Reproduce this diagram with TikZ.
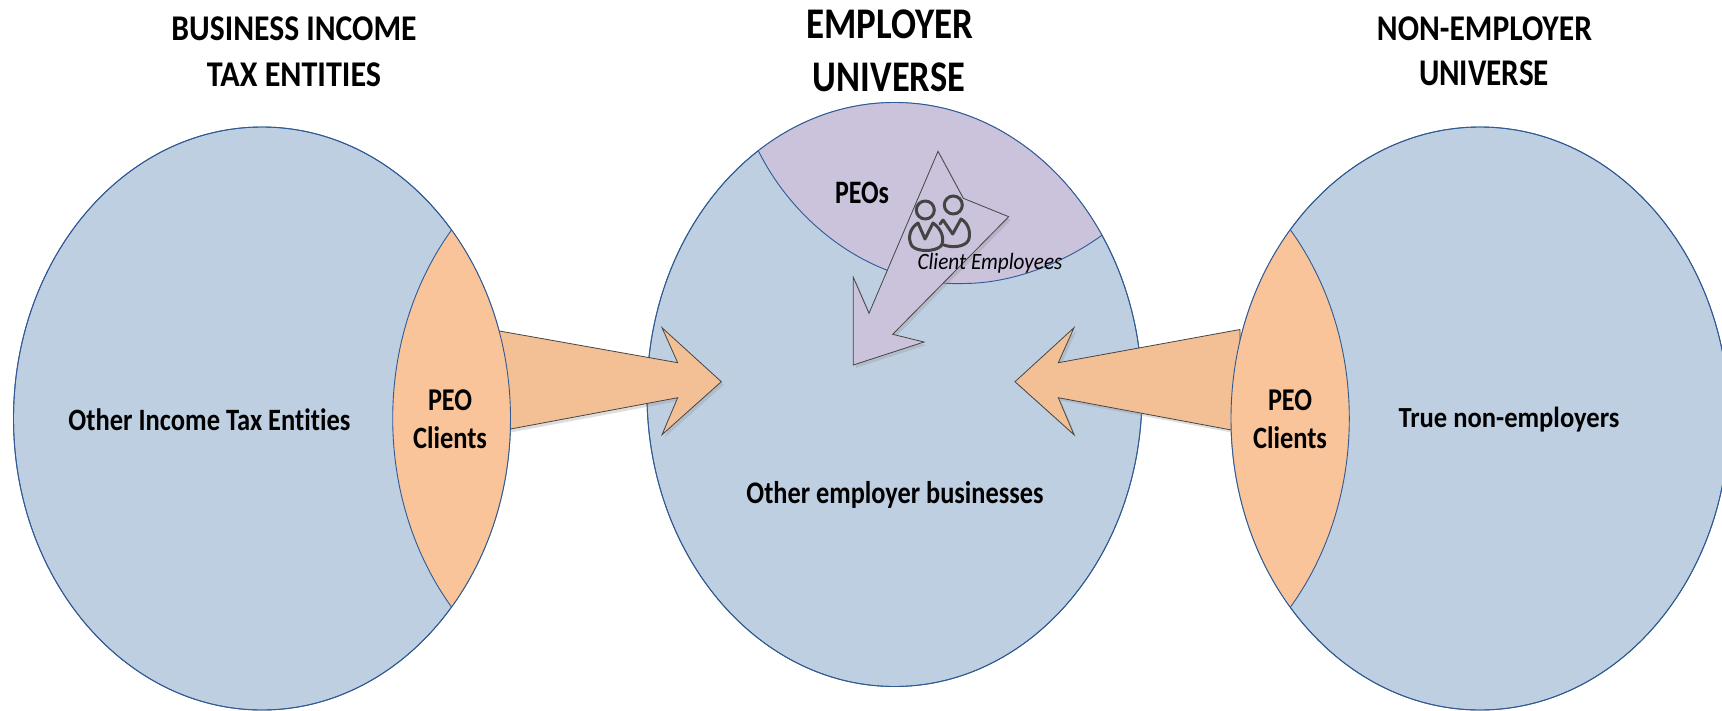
\documentclass[tikz,border=0pt]{standalone}
\usepackage{graphicx}
\usepackage{fontspec}
\setmainfont[Ligatures=NoCommon]{Carlito}
\newcommand{\fittxt}[3]{\resizebox*{#1pt}{#2pt}{#3}}
\definecolor{uniblue}{HTML}{BFCFE2}
\definecolor{uniline}{HTML}{2F5A94}
\definecolor{lensorange}{HTML}{F9C49A}
\definecolor{arroworange}{HTML}{F3BF95}
\definecolor{peopurple}{HTML}{CBC2DB}
\definecolor{arrowline}{HTML}{454545}
\definecolor{iconline}{HTML}{444444}
\tikzset{
  universe/.style={fill=uniblue,draw=uniline,line width=0.9pt},
  arc line/.style={draw=uniline,line width=0.9pt},
  block arrow/.style={draw=arrowline,line width=0.8pt,line join=miter},
  arrow shadow/.style={fill=black!45,opacity=0.28},
  label text/.style={inner sep=0pt,outer sep=0pt,anchor=center,font=\bfseries,text=black},
  icon line/.style={draw=iconline,line width=3pt,line join=round,line cap=round},
}
\begin{document}
\begin{tikzpicture}[x=1pt,y=-1pt]
\useasboundingbox (0,0) rectangle (1722,710);
\clip (0,0) rectangle (1722,710);
\fill[white] (0,0) rectangle (1722,710);
% universes
\draw[universe] (262,418.5) ellipse [x radius=248.5pt,y radius=291.5pt];
\draw[universe] (894.5,394.5) ellipse [x radius=247.5pt,y radius=292pt];
\draw[universe] (1480,418.5) ellipse [x radius=249pt,y radius=291.5pt];
% PEOs segment
\begin{scope}
  \clip (894.5,394.5) ellipse [x radius=247.5pt,y radius=292pt];
  \fill[peopurple] (758.3,150.7) .. controls (795,225) and (875,287) .. (965,283.5)
     .. controls (1015,283) and (1065,262) .. (1102.3,235) -- (1140,90) -- (720,90) -- cycle;
\end{scope}
\draw[arc line] (758.3,150.7) .. controls (795,225) and (875,287) .. (965,283.5)
     .. controls (1015,283) and (1065,262) .. (1102.3,235);
\draw[uniline,line width=0.9pt] (894.5,394.5) ellipse [x radius=247.5pt,y radius=292pt];
% block arrows (shadows first)
\fill[arrow shadow,shift={(2.5,3)}] (495,331) -- (677.7,362.7) -- (662,327.7) -- (721.3,381.7) -- (662,434.7) -- (677.7,397.7) -- (500,431) -- cycle;
\fill[arrow shadow,shift={(2.5,3)}] (1240,330) -- (1058.3,362.7) -- (1074,327.7) -- (1015,381.7) -- (1074,434.7) -- (1058.3,397.7) -- (1240,431.5) -- cycle;
\fill[arrow shadow,shift={(2.5,3)}] (938,151.3) -- (963.3,198.3) -- (1008.7,216.7) -- (892.7,334.3) -- (924,342) -- (853.3,365) -- (853.3,277.3) -- (869,313.3) -- cycle;
\draw[block arrow,fill=arroworange] (495,330.2) -- (677.7,362.7) -- (662,327.7) -- (721.3,381.7) -- (662,434.7) -- (677.7,397.7) -- (500,431) -- cycle;
\draw[block arrow,fill=arroworange] (1240,329.5) -- (1058.3,362.7) -- (1074,327.7) -- (1015,381.7) -- (1074,434.7) -- (1058.3,397.7) -- (1240,431.6) -- cycle;
\draw[block arrow,fill=peopurple] (938,151.3) -- (963.3,198.3) -- (1008.7,216.7) -- (892.7,334.3) -- (924,342) -- (853.3,365) -- (853.3,277.3) -- (869,313.3) -- cycle;
% lenses
\begin{scope}
  \clip (262,418.5) ellipse [x radius=248.5pt,y radius=291.5pt];
  \fill[lensorange] (641.7,418.5) ellipse [x radius=249pt,y radius=292pt];
  \draw[arc line] (641.7,418.5) ellipse [x radius=249pt,y radius=292pt];
\end{scope}
\draw[uniline,line width=0.9pt] (262,418.5) ellipse [x radius=248.5pt,y radius=291.5pt];
\begin{scope}
  \clip (1480,418.5) ellipse [x radius=249pt,y radius=291.5pt];
  \fill[lensorange] (1100.3,418.5) ellipse [x radius=249pt,y radius=292pt];
  \draw[arc line] (1100.3,418.5) ellipse [x radius=249pt,y radius=292pt];
\end{scope}
\draw[uniline,line width=0.9pt] (1480,418.5) ellipse [x radius=249pt,y radius=291.5pt];
% client employee icon: back figure, then front figure
\draw[icon line] (953.3,205) circle (9pt);
\draw[icon line] (943,220) -- (952.7,234) -- (961,219) .. controls (970,224) and (971,236) .. (968,241)
   .. controls (964,247) and (952,248) .. (944,245);
\draw[icon line] (943,220) -- (940,224);
\draw[icon line] (925.3,210) circle (9pt);
\draw[icon line] (918,223) -- (925,239) -- (933,223) .. controls (942,229) and (945,240) .. (941,246)
   .. controls (935,252) and (917,252) .. (912,246) .. controls (907,238) and (910,228) .. (918,223) -- cycle;
% labels
\node[label text] (t1a) at (294,28.5) {\fittxt{245}{24}{BUSINESS INCOME}};
\node[label text] (t1b) at (294,74.5) {\fittxt{174}{24}{TAX ENTITIES}};
\node[label text] (t2a) at (889.7,24.5) {\fittxt{167}{29}{EMPLOYER}};
\node[label text] (t2b) at (889,77.5) {\fittxt{152}{29}{UNIVERSE}};
\node[label text] (t3a) at (1484.5,28.5) {\fittxt{215}{24}{NON-EMPLOYER}};
\node[label text] (t3b) at (1484,73.5) {\fittxt{130}{25}{UNIVERSE}};
\node[label text] (peos) at (862,192.5) {\fittxt{54}{21.7}{PEOs}};
\node[label text,font=\itshape] (clemp) at (990,263.7) {\fittxt{145}{20}{Client Employees}};
\node[label text] (lenl1) at (450,400.3) {\fittxt{44}{21}{PEO}};
\node[label text] (lenl2) at (450,437.5) {\fittxt{74}{22}{Clients}};
\node[label text] (lenr1) at (1290,400.3) {\fittxt{44}{21}{PEO}};
\node[label text] (lenr2) at (1290,437.5) {\fittxt{74}{22}{Clients}};
\node[label text] (other) at (209.5,420) {\fittxt{282}{22}{Other Income Tax Entities}};
\node[label text] (emp) at (895,495) {\fittxt{297}{27}{Other employer businesses}};
\node[label text] (truen) at (1509,420) {\fittxt{221}{25}{True non-employers}};
\end{tikzpicture}
\end{document}
